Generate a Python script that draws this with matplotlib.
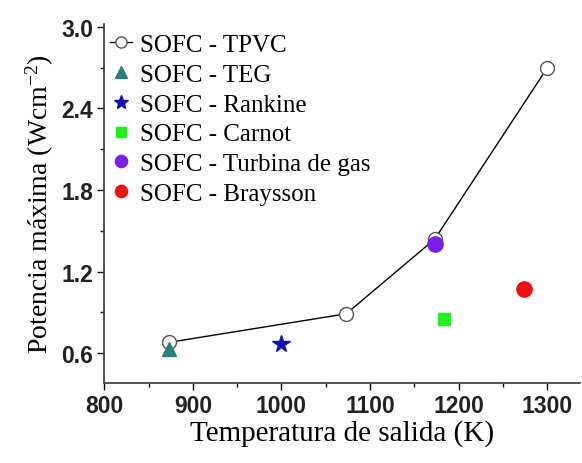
import matplotlib
matplotlib.use("Agg")
import matplotlib.pyplot as plt
from matplotlib.ticker import MultipleLocator, FormatStrFormatter

# data
tpvc_t = [873, 1073, 1173, 1300]
tpvc_p = [0.68, 0.89, 1.44, 2.70]
teg_t, teg_p = [873], [0.63]
rankine_t, rankine_p = [1000], [0.67]
carnot_t, carnot_p = [1183], [0.85]
turbina_t, turbina_p = [1173], [1.40]
braysson_t, braysson_p = [1273], [1.07]

serif = "Liberation Serif"
sans = "Liberation Sans"
plt.rcParams["mathtext.fontset"] = "custom"
plt.rcParams["mathtext.rm"] = serif
plt.rcParams["mathtext.it"] = serif + ":italic"

fig = plt.figure(figsize=(5.82, 4.64), dpi=100)
ax = fig.add_axes([0.179, 0.172, 0.818, 0.774])

ax.plot(tpvc_t, tpvc_p, "-o", color="black", lw=1.0, mfc="white", mec="#555555",
        ms=10, mew=1.0, label="SOFC - TPVC", zorder=2)
ax.plot(teg_t, teg_p, "^", color="#2a7f7a", ms=10, ls="none", label="SOFC - TEG", zorder=3)
ax.plot(rankine_t, rankine_p, "*", color="#1010b0", ms=13, ls="none", label="SOFC - Rankine")
ax.plot(carnot_t, carnot_p, "s", color="#22ee22", ms=9, ls="none", label="SOFC - Carnot")
ax.plot(turbina_t, turbina_p, "o", color="#7a1ee8", ms=11, ls="none", label="SOFC - Turbina de gas")
ax.plot(braysson_t, braysson_p, "o", color="#ee1111", ms=11, ls="none", label="SOFC - Braysson")

ax.set_xlim(800, 1337)
ax.set_ylim(0.38, 3.02)
ax.xaxis.set_major_locator(MultipleLocator(100))
ax.xaxis.set_minor_locator(MultipleLocator(50))
ax.yaxis.set_major_locator(MultipleLocator(0.6))
ax.yaxis.set_minor_locator(MultipleLocator(0.3))
ax.yaxis.set_major_formatter(FormatStrFormatter("%.1f"))
ax.tick_params(which="major", direction="out", length=5, width=1, labelsize=16.5, pad=3)
ax.tick_params(which="minor", direction="out", length=3, width=1)
for lab in ax.get_xticklabels() + ax.get_yticklabels():
    lab.set_fontfamily(sans)
    lab.set_fontweight("bold")
    lab.set_color("#222222")

for s in ["top", "right"]:
    ax.spines[s].set_visible(False)
for s in ["left", "bottom"]:
    ax.spines[s].set_color("#444444")
    ax.spines[s].set_linewidth(1.3)

ax.set_xlabel("Temperatura de salida (K)", fontfamily=serif, fontsize=21, labelpad=1)
ax.set_ylabel("Potencia máxima (Wcm$^{\\mathregular{-2}}$)", fontfamily=serif, fontsize=20, labelpad=4)

ax.legend(loc="upper left", bbox_to_anchor=(-0.02, 1.015), frameon=False,
          prop={"family": serif, "size": 18}, handlelength=0.9, handletextpad=0.3,
          labelspacing=0.29, borderaxespad=0.2, markerscale=0.8)

fig.savefig("out.png", dpi=100)
